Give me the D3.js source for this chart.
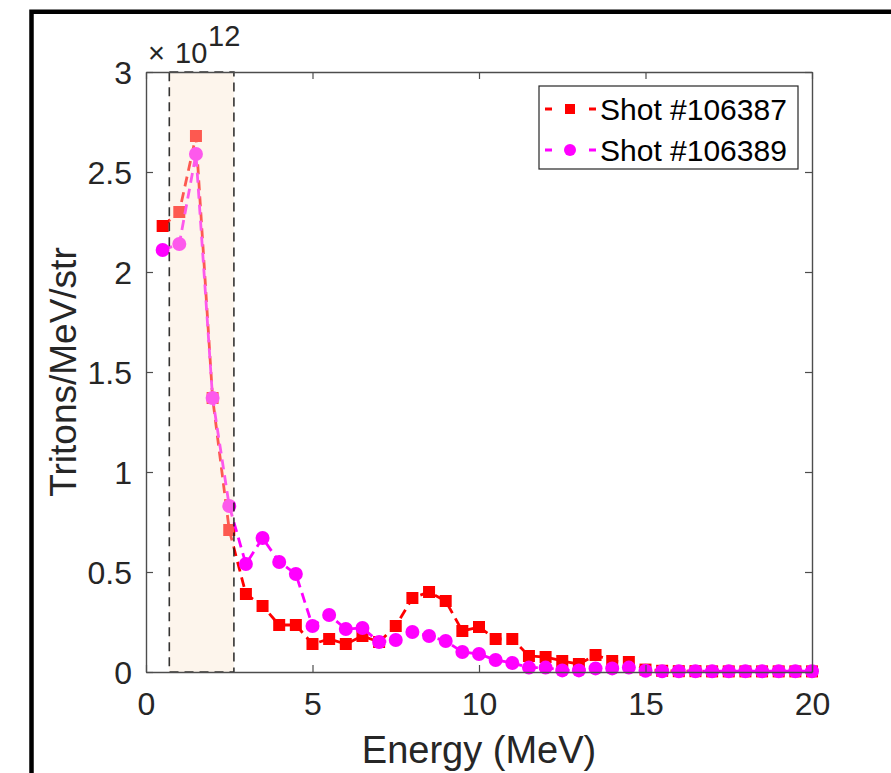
<!DOCTYPE html>
<html>
<head>
<meta charset="utf-8">
<script src="https://cdn.jsdelivr.net/npm/d3@7"></script>
<style>
    body { margin: 0; background: #fff; }
    svg { display: block; font-family: 'Liberation Sans', Arial, sans-serif; }
</style>
</head>
<body>
<svg></svg>
<script>
// energy bins (MeV)
const energy = [0.5, 1, 1.5, 2, 2.5, 3, 3.5, 4, 4.5, 5, 5.5, 6, 6.5, 7, 7.5, 8, 8.5, 9, 9.5, 10,
    10.5, 11, 11.5, 12, 12.5, 13, 13.5, 14, 14.5, 15, 15.5, 16, 16.5, 17, 17.5, 18, 18.5, 19, 19.5, 20];

// tritons/MeV/str, in units of 1e12
const shot106387 = [2.23, 2.30, 2.68, 1.37, 0.71, 0.39, 0.33, 0.235, 0.235, 0.14, 0.165, 0.14, 0.18, 0.15, 0.23, 0.37,
    0.40, 0.355, 0.205, 0.225, 0.165, 0.165, 0.08, 0.075, 0.055, 0.04, 0.085, 0.055, 0.05, 0.012,
    0.006, 0.004, 0.004, 0.003, 0.003, 0.003, 0.003, 0.003, 0.003, 0.003];
const shot106389 = [2.11, 2.14, 2.59, 1.37, 0.83, 0.54, 0.67, 0.55, 0.49, 0.23, 0.285, 0.215, 0.22, 0.15, 0.16, 0.20,
    0.18, 0.155, 0.10, 0.09, 0.06, 0.045, 0.022, 0.022, 0.008, 0.008, 0.018, 0.018, 0.022, 0.006,
    0.004, 0.004, 0.004, 0.004, 0.004, 0.004, 0.004, 0.004, 0.004, 0.004];

const seriesNames = ['Shot #106387', 'Shot #106389'];
const seriesColors = ['#ff0000', '#ff00ff'];

const xTicks = [0, 5, 10, 15, 20];
const yTicks = [0, 0.5, 1, 1.5, 2, 2.5, 3];
const bandRange = [0.7, 2.64];   // highlighted energy window

let width = 891;
let height = 773;
let margin = {left: 146, top: 72, right: 79, bottom: 101};
let innerWidth = width - margin.left - margin.right;
let innerHeight = height - margin.top - margin.bottom;

let svg = d3.select('svg')
    .attr('width', width)
    .attr('height', height);

// outer black frame (runs off right / bottom)
svg.append('path')
    .attr('d', `M31.5,${height + 5} V11.75 H${width + 5}`)
    .attr('fill', 'none')
    .attr('stroke', '#000')
    .attr('stroke-width', 4.5);

let xScale = d3.scaleLinear().domain([0, 20]).range([0, innerWidth]);
let yScale = d3.scaleLinear().domain([0, 3]).range([innerHeight, 0]);

let focus = svg.append('g')
    .attr('transform', `translate(${margin.left}, ${margin.top})`);

focus.append('rect')
    .attr('width', innerWidth)
    .attr('height', innerHeight)
    .attr('fill', '#fff');

// data layers
let series = [
    {name: seriesNames[0], values: shot106387, color: seriesColors[0], marker: 'square'},
    {name: seriesNames[1], values: shot106389, color: seriesColors[1], marker: 'circle'}
];

let line = d3.line()
    .x((d, i) => xScale(energy[i]))
    .y(d => yScale(d));

let dataLayer = focus.append('g');

function drawMarker(g, marker, color, cx, cy, size) {
    if (marker === 'square') {
        g.append('rect')
            .attr('x', cx - size / 2)
            .attr('y', cy - size / 2)
            .attr('width', size)
            .attr('height', size)
            .attr('fill', color);
    } else {
        g.append('circle')
            .attr('cx', cx)
            .attr('cy', cy)
            .attr('r', size / 2 + 1)
            .attr('fill', color);
    }
}

series.forEach(s => {
    dataLayer.append('path')
        .datum(s.values)
        .attr('d', line)
        .attr('fill', 'none')
        .attr('stroke', s.color)
        .attr('stroke-width', 2.8)
        .attr('stroke-dasharray', '10,6');
    let mk = dataLayer.append('g');
    s.values.forEach((v, i) => drawMarker(mk, s.marker, s.color, xScale(energy[i]), yScale(v), 12));
});

// translucent highlight band on top of the data
focus.append('rect')
    .attr('x', xScale(bandRange[0]))
    .attr('y', 0)
    .attr('width', xScale(bandRange[1]) - xScale(bandRange[0]))
    .attr('height', innerHeight)
    .attr('fill', 'rgb(250,230,205)')
    .attr('fill-opacity', 0.39)
    .attr('stroke', '#111')
    .attr('stroke-opacity', 0.85)
    .attr('stroke-width', 1.6)
    .attr('stroke-dasharray', '9,6');

// axes (box with inward ticks)
let axisColor = '#4d4d4d';
let textColor = '#262626';

let xAxis = d3.axisBottom(xScale).tickValues(xTicks).tickSizeInner(-7).tickSizeOuter(0).tickPadding(14)
    .tickFormat(d3.format('d'));
let yAxis = d3.axisLeft(yScale).tickValues(yTicks).tickSizeInner(-7).tickSizeOuter(0).tickPadding(14)
    .tickFormat(d => String(d));
let xAxisTop = d3.axisTop(xScale).tickValues(xTicks).tickSizeInner(-7).tickSizeOuter(0).tickFormat('');
let yAxisRight = d3.axisRight(yScale).tickValues(yTicks).tickSizeInner(-7).tickSizeOuter(0).tickFormat('');

let gx = focus.append('g')
    .attr('transform', `translate(0, ${innerHeight})`)
    .call(xAxis);
let gy = focus.append('g').call(yAxis);
let gxt = focus.append('g').call(xAxisTop);
let gyr = focus.append('g')
    .attr('transform', `translate(${innerWidth}, 0)`)
    .call(yAxisRight);

[gx, gy, gxt, gyr].forEach(g => {
    g.selectAll('.domain').attr('stroke', axisColor).attr('stroke-width', 1.4);
    g.selectAll('.tick line').attr('stroke', axisColor).attr('stroke-width', 1.2);
    g.selectAll('.tick text')
        .attr('fill', textColor)
        .style('font-size', '32px')
        .style('font-family', "'Liberation Sans', Arial, sans-serif");
});
gx.selectAll('.tick text').attr('dy', '0.9em');
gy.selectAll('.tick text').attr('dy', '0.36em');

// exponent label
let expLabel = svg.append('g')
    .attr('fill', textColor)
    .style('font-size', '29px');
expLabel.append('text').attr('x', 148).attr('y', 63).text('\u00d7');
expLabel.append('text').attr('x', 175).attr('y', 63).text('10');
expLabel.append('text').attr('x', 208).attr('y', 46).text('12');

// axis titles
svg.append('text')
    .attr('x', margin.left + innerWidth / 2)
    .attr('y', 763)
    .attr('text-anchor', 'middle')
    .attr('fill', textColor)
    .style('font-size', '38px')
    .text('Energy (MeV)');

svg.append('text')
    .attr('transform', `translate(76, ${margin.top + innerHeight / 2}) rotate(-90)`)
    .attr('text-anchor', 'middle')
    .attr('fill', textColor)
    .style('font-size', '37px')
    .text('Tritons/MeV/str');

// legend
let legend = svg.append('g').attr('transform', 'translate(539, 86)');
legend.append('rect')
    .attr('width', 259)
    .attr('height', 83)
    .attr('fill', '#fff')
    .attr('stroke', '#262626')
    .attr('stroke-width', 1.2);

series.forEach((s, i) => {
    let cy = 23 + i * 41;
    legend.append('line')
        .attr('x1', 6).attr('x2', 57)
        .attr('y1', cy).attr('y2', cy)
        .attr('stroke', s.color)
        .attr('stroke-width', 2.8)
        .attr('stroke-dasharray', '7,14,9,14,7');
    drawMarker(legend, s.marker, s.color, 31, cy, 10);
    legend.append('text')
        .attr('x', 61)
        .attr('y', cy)
        .attr('dy', '0.36em')
        .attr('fill', '#000')
        .style('font-size', '30px')
        .text(s.name);
});
</script>
</body>
</html>
